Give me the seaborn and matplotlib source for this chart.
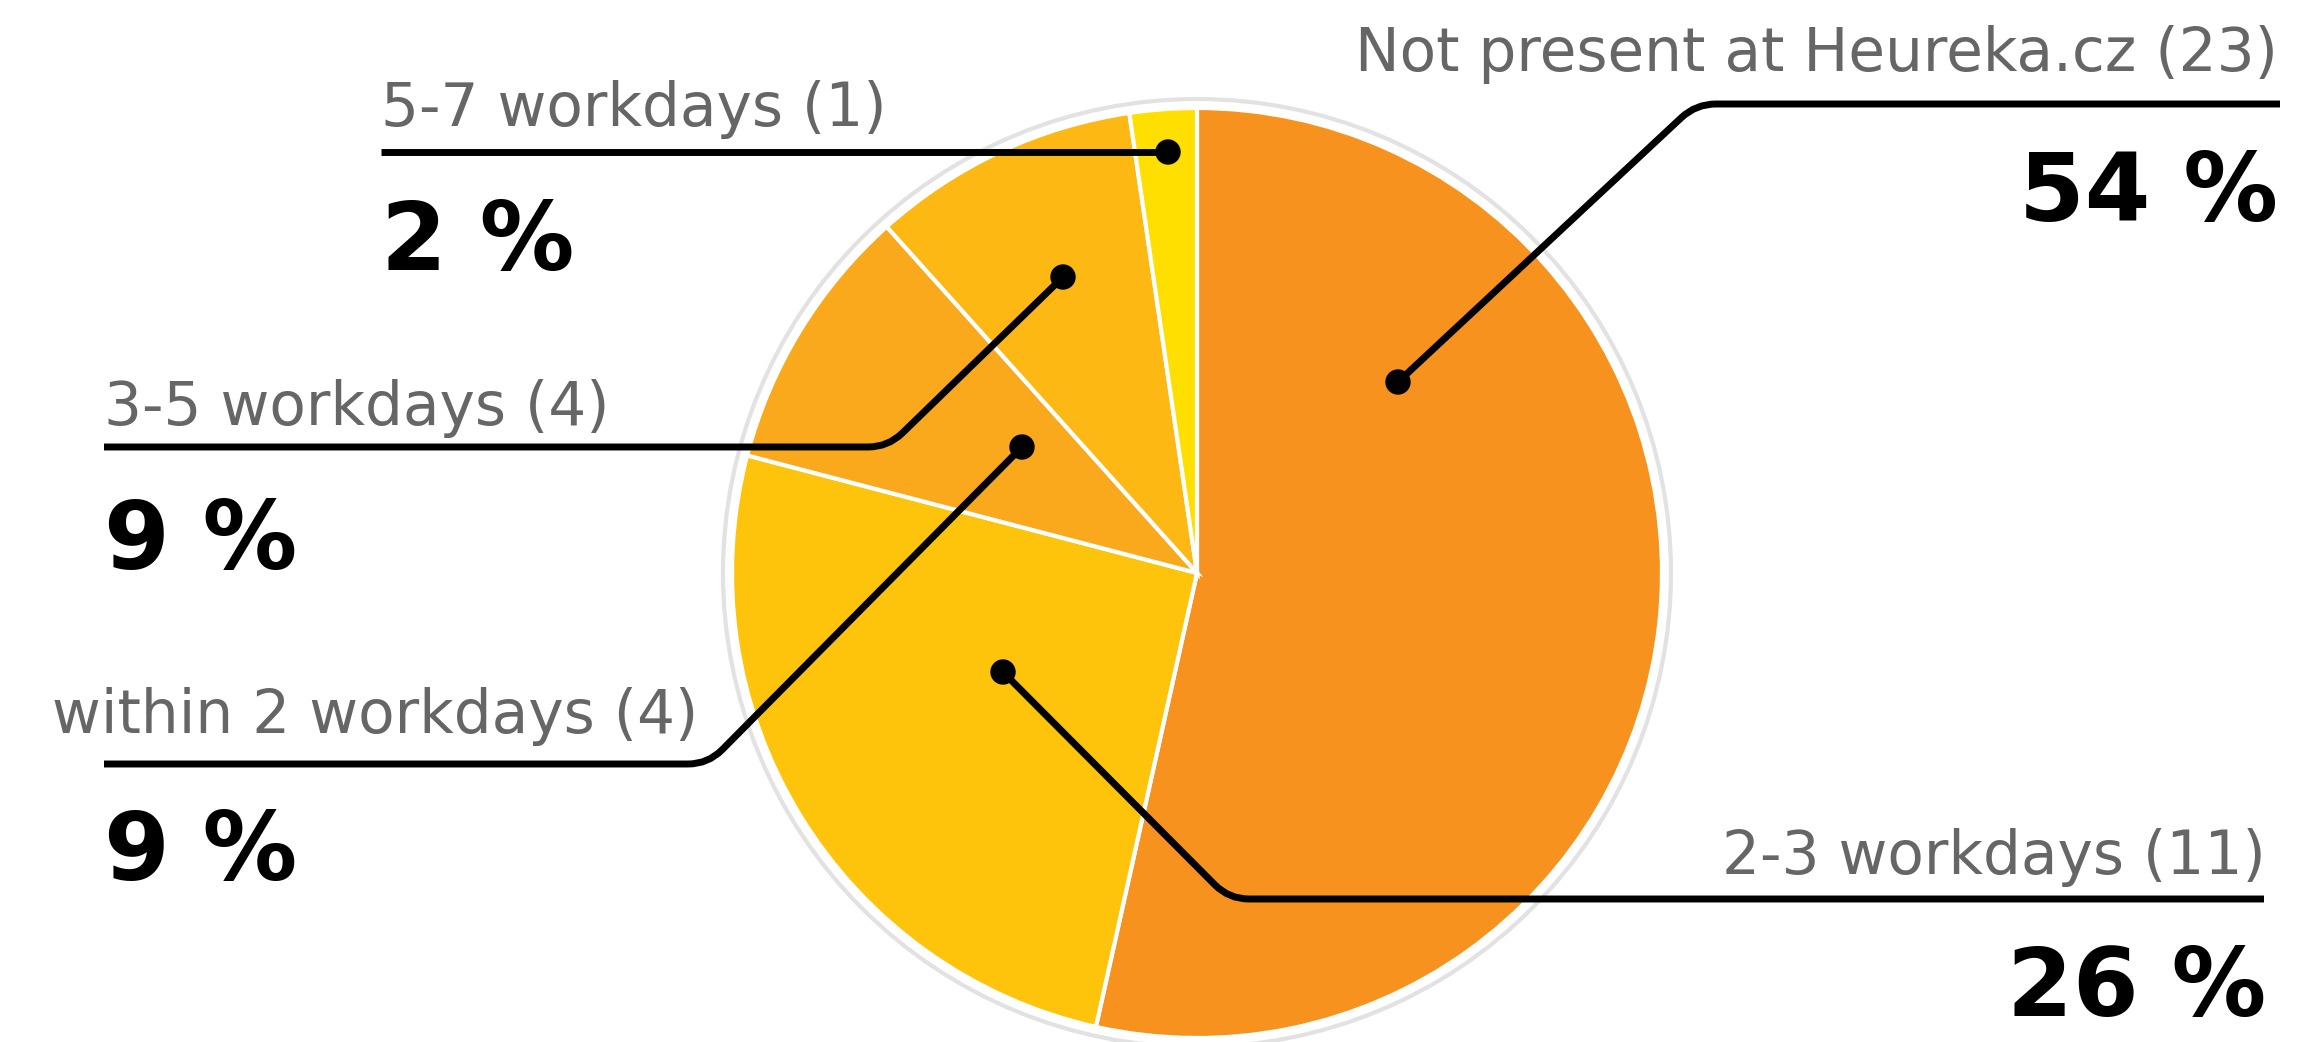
import numpy as np
import matplotlib
matplotlib.use("Agg")
import matplotlib.pyplot as plt
import seaborn as sns
from matplotlib.path import Path
from matplotlib.patches import PathPatch, Circle

# ---- data ----
categories = ["Not present at Heureka.cz", "2-3 workdays", "within 2 workdays",
              "3-5 workdays", "5-7 workdays"]
counts = [23, 11, 4, 4, 1]
percent_labels = ["54 %", "26 %", "9 %", "9 %", "2 %"]
colors = ["#F7921E", "#FEC40C", "#F9A91B", "#FDB813", "#FFDF00"]

W, H = 2322, 1042
sns.set_theme(style="white")
plt.rcParams['font.family'] = ['DejaVu Sans']

fig = plt.figure(figsize=(W / 100, H / 100), dpi=100)
ax = fig.add_axes([0, 0, 1, 1])


def P(x, y):
    return (x, H - y)


cx, cy = P(1197, 573)
R = 465
palette = sns.color_palette(colors)
ax.pie(counts, colors=palette, startangle=90, counterclock=False,
       center=(cx, cy), radius=R,
       wedgeprops=dict(edgecolor='white', linewidth=3.0), frame=True)
ax.add_patch(Circle((cx, cy), R + 9, fill=False, edgecolor='#e2e2e2', lw=3))

# annotation layout (pixel coordinates, y down)
layout = {
    "Not present at Heureka.cz": dict(label=(2278, 71, 'right'), pct=(2278, 221),
                                      line=[(1398, 382), (1696, 104), (2280, 104)]),
    "2-3 workdays": dict(label=(2266, 874, 'right'), pct=(2266, 1016),
                         line=[(1003, 672), (1229, 899), (2264, 899)]),
    "within 2 workdays": dict(label=(52, 733, 'left'), pct=(104, 880),
                              line=[(1022, 447), (708, 764), (104, 764)]),
    "3-5 workdays": dict(label=(104, 425, 'left'), pct=(104, 569),
                         line=[(1063, 277), (888, 447), (104, 447)]),
    "5-7 workdays": dict(label=(381, 126, 'left'), pct=(381, 270),
                         line=[(1168, 152), (381, 152)]),
}


def rounded_path(pts, r=20):
    pts = [np.array(P(*p), dtype=float) for p in pts]
    verts = [pts[0]]
    codes = [Path.MOVETO]
    for i in range(1, len(pts) - 1):
        a, b, c = pts[i - 1], pts[i], pts[i + 1]
        u1 = (a - b) / np.linalg.norm(a - b)
        u2 = (c - b) / np.linalg.norm(c - b)
        verts += [b + u1 * r, b, b + u2 * r]
        codes += [Path.LINETO, Path.CURVE3, Path.CURVE3]
    verts.append(pts[-1])
    codes.append(Path.LINETO)
    return Path(verts, codes)


for cat, cnt, pct in zip(categories, counts, percent_labels):
    L = layout[cat]
    lx, ly, ha = L['label']
    ax.text(*P(lx, ly), f"{cat} ({cnt})", ha=ha, va='baseline',
            fontsize=43, color='#666666')
    px, py = L['pct']
    ax.text(*P(px, py), pct, ha=ha, va='baseline', fontsize=68,
            fontweight='bold', color='black')
    ax.add_patch(PathPatch(rounded_path(L['line']), fill=False,
                           edgecolor='black', lw=5, capstyle='butt',
                           joinstyle='round'))
    ax.add_patch(Circle(P(*L['line'][0]), 12, color='black', zorder=5))

ax.set_xlim(0, W)
ax.set_ylim(0, H)
ax.set_aspect('equal')
ax.axis('off')
fig.savefig("out.png", dpi=100, facecolor='white')
